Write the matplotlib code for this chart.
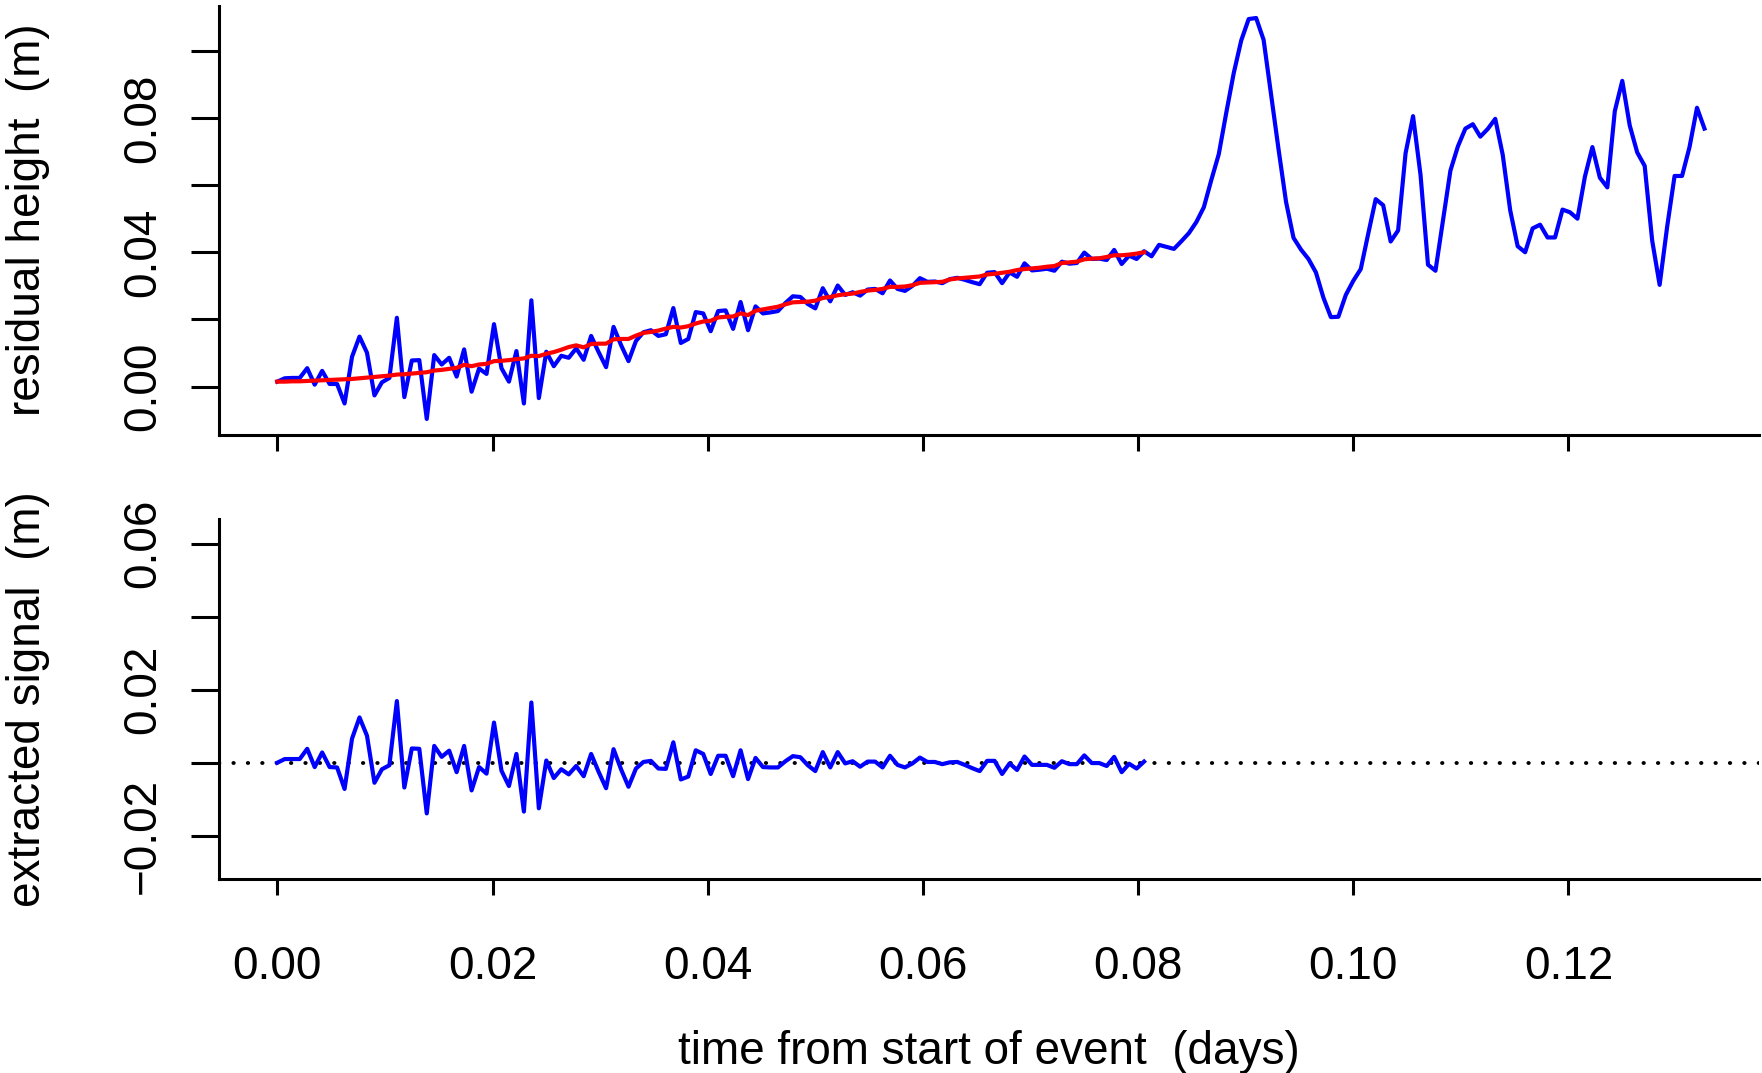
#!env python3

import matplotlib
matplotlib.use('Agg')
import matplotlib.pyplot as plt
import numpy as np

# samples are one minute apart; the first 117 minutes were detrended
signal = [
    0.0000, 0.0010, 0.0010, 0.0010, 0.0038, -0.0012, 0.0028, -0.0012, -0.0013, -0.0072,
    0.0066, 0.0124, 0.0074, -0.0055, -0.0018, -0.0007, 0.0169, -0.0068, 0.0039, 0.0038,
    -0.0139, 0.0046, 0.0016, 0.0033, -0.0026, 0.0046, -0.0076, -0.0012, -0.0030, 0.0110,
    -0.0022, -0.0064, 0.0024, -0.0134, 0.0165, -0.0125, 0.0006, -0.0042, -0.0018, -0.0032,
    -0.0009, -0.0037, 0.0024, -0.0025, -0.0070, 0.0037, -0.0018, -0.0066, -0.0016, 0.0002,
    0.0005, -0.0016, -0.0017, 0.0056, -0.0046, -0.0038, 0.0034, 0.0024, -0.0031, 0.0019,
    0.0019, -0.0037, 0.0034, -0.0045, 0.0013, -0.0012, -0.0013, -0.0013, 0.0004, 0.0018,
    0.0015, -0.0007, -0.0023, 0.0029, -0.0013, 0.0029, -0.0002, 0.0004, -0.0011, 0.0003,
    0.0003, -0.0013, 0.0019, -0.0006, -0.0013, -0.0002, 0.0014, 0.0002, 0.0002, -0.0004,
    0.0001, 0.0002, -0.0006, -0.0015, -0.0023, 0.0005, 0.0005, -0.0031, -0.0002, -0.0020,
    0.0017, -0.0006, -0.0006, -0.0006, -0.0014, 0.0004, -0.0004, -0.0004, 0.0020, -0.0001,
    -0.0001, -0.0009, 0.0016, -0.0026, -0.0003, -0.0016, 0.0003,
]

trend = [
    0.0015, 0.0015, 0.0016, 0.0016, 0.0017, 0.0018, 0.0019, 0.0020, 0.0021, 0.0022,
    0.0023, 0.0025, 0.0027, 0.0029, 0.0031, 0.0033, 0.0036, 0.0037, 0.0039, 0.0041,
    0.0043, 0.0048, 0.0050, 0.0053, 0.0056, 0.0065, 0.0061, 0.0066, 0.0068, 0.0076,
    0.0077, 0.0079, 0.0082, 0.0084, 0.0092, 0.0091, 0.0098, 0.0103, 0.0110, 0.0118,
    0.0123, 0.0117, 0.0127, 0.0128, 0.0128, 0.0141, 0.0142, 0.0142, 0.0152, 0.0160,
    0.0163, 0.0167, 0.0173, 0.0178, 0.0176, 0.0180, 0.0188, 0.0194, 0.0196, 0.0206,
    0.0208, 0.0209, 0.0218, 0.0213, 0.0226, 0.0230, 0.0234, 0.0238, 0.0245, 0.0251,
    0.0252, 0.0253, 0.0256, 0.0264, 0.0267, 0.0272, 0.0275, 0.0277, 0.0282, 0.0286,
    0.0288, 0.0291, 0.0297, 0.0297, 0.0298, 0.0302, 0.0309, 0.0310, 0.0311, 0.0312,
    0.0319, 0.0322, 0.0324, 0.0326, 0.0328, 0.0334, 0.0336, 0.0339, 0.0342, 0.0347,
    0.0350, 0.0352, 0.0354, 0.0357, 0.0359, 0.0368, 0.0370, 0.0372, 0.0379, 0.0381,
    0.0382, 0.0386, 0.0391, 0.0391, 0.0393, 0.0396, 0.0400,
]

# residual height after the detrended part
resid_tail = [
    0.0388, 0.0422, 0.0416, 0.0410, 0.0433, 0.0457, 0.0490, 0.0534, 0.0615, 0.0692,
    0.0815, 0.0933, 0.1030, 0.1094, 0.1097, 0.1032, 0.0869, 0.0706, 0.0550, 0.0443,
    0.0408, 0.0380, 0.0340, 0.0265, 0.0207, 0.0208, 0.0273, 0.0315, 0.0350, 0.0455,
    0.0558, 0.0540, 0.0432, 0.0465, 0.0695, 0.0805, 0.0630, 0.0363, 0.0345, 0.0494,
    0.0643, 0.0715, 0.0768, 0.0781, 0.0744, 0.0767, 0.0797, 0.0690, 0.0525, 0.0418,
    0.0400, 0.0471, 0.0482, 0.0444, 0.0444, 0.0527, 0.0519, 0.0500, 0.0625, 0.0713,
    0.0622, 0.0593, 0.0820, 0.0910, 0.0777, 0.0697, 0.0657, 0.0435, 0.0303, 0.0475,
    0.0627, 0.0627, 0.0713, 0.0830, 0.0768,
]

xticks = [0.00, 0.02, 0.04, 0.06, 0.08, 0.10, 0.12]
xticklabels = ['0.00', '0.02', '0.04', '0.06', '0.08', '0.10', '0.12']
top_yticks = [0.00, 0.02, 0.04, 0.06, 0.08, 0.10]
top_yticklabels = ['0.00', '', '0.04', '', '0.08', '']
bot_yticks = [-0.02, 0.00, 0.02, 0.04, 0.06]
bot_yticklabels = ['\u22120.02', '', '0.02', '', '0.06']

W, H = 1762, 1073
FONT = 'Liberation Sans'
FS = 33


def box(l, t, r, b):
    """ pixel box -> figure fraction rect """
    return [l / W, 1 - b / H, (r - l) / W, (b - t) / H]


def style(ax, yticks, yticklabels):
    for side in ['top', 'right']:
        ax.spines[side].set_visible(False)
    for side in ['left', 'bottom']:
        ax.spines[side].set_linewidth(2.2)
    ax.set_xticks(xticks)
    ax.set_yticks(yticks)
    ax.set_yticklabels(yticklabels, rotation=90, va='center', fontsize=FS, family=FONT)
    ax.tick_params(axis='y', direction='out', length=20, width=2.2, pad=19)
    ax.tick_params(axis='x', direction='out', length=11.5, width=2.2, pad=36.5)


def main(outfile='out.png'):
    n_fit = len(signal)
    resid = np.concatenate([np.array(trend) + np.array(signal), resid_tail])
    days = np.arange(len(resid)) / 1440.0
    t_fit = days[:n_fit]

    fig = plt.figure(figsize=(W / 100, H / 100), dpi=100)

    ax1 = fig.add_axes(box(219, 5.6, 1758.6, 435))
    ax1.plot(days, resid, color='#0000ff', lw=3.0)
    ax1.plot(t_fit, trend, color='#ff0000', lw=3.0)
    ax1.set_xlim(-0.00542, 0.13767)
    ax1.set_ylim(-0.01438, 0.1134)
    style(ax1, top_yticks, top_yticklabels)
    ax1.set_xticklabels([])

    ax2 = fig.add_axes(box(219, 519, 1758.6, 878.7))
    ax2.axhline(0, color='black', lw=2.8, linestyle=(0, (0.1, 3.6)), dash_capstyle='round')
    ax2.plot(t_fit, signal, color='#0000ff', lw=3.0)
    ax2.set_xlim(-0.00542, 0.13767)
    ax2.set_ylim(-0.0318, 0.0668)
    style(ax2, bot_yticks, bot_yticklabels)
    ax2.set_xticklabels(xticklabels, fontsize=FS, family=FONT)

    fig.text(28 / W, 1 - 220 / H, 'residual height  (m)', rotation=90,
             ha='center', va='center', fontsize=FS, family=FONT)
    fig.text(28 / W, 1 - 699 / H, 'extracted signal  (m)', rotation=90,
             ha='center', va='center', fontsize=FS, family=FONT)
    fig.text(989 / W, 1 - 1052 / H, 'time from start of event  (days)',
             ha='center', va='center', fontsize=FS, family=FONT)

    fig.savefig(outfile, dpi=100)


if __name__ == '__main__':
    main()
